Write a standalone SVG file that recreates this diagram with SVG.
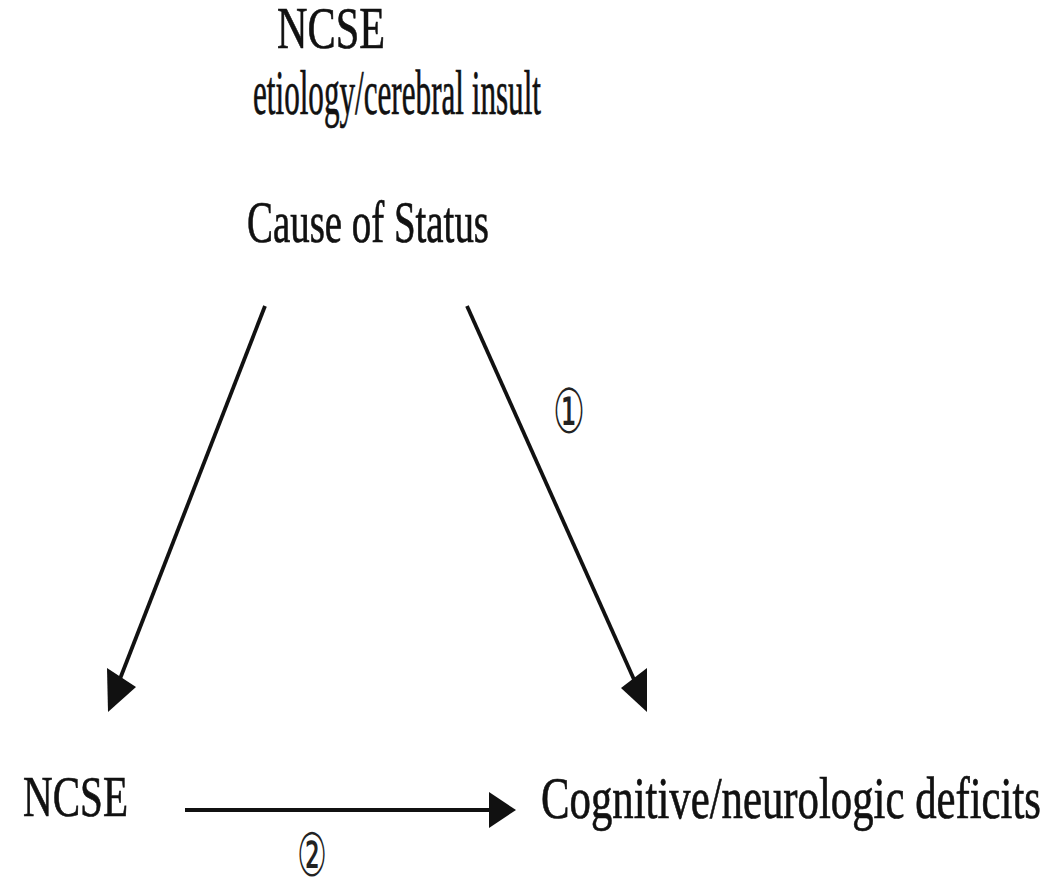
<svg xmlns="http://www.w3.org/2000/svg" width="1052" height="878" viewBox="0 0 1052 878">
<style>
.t{font-family:"Liberation Serif","Times New Roman",serif;fill:#111;stroke:#111;stroke-width:0.7;}
.c{font-family:"DejaVu Sans","Noto Sans",sans-serif;fill:#222;}
.l{stroke:#111;stroke-width:3.8;fill:none;}
.h{fill:#111;}
</style>
<rect width="1052" height="878" fill="#fff"/>
<g id="node-cause">
<text class="t" x="277" y="48" font-size="60" textLength="108" lengthAdjust="spacingAndGlyphs">NCSE</text>
<text class="t" x="253" y="114" font-size="63" textLength="288" lengthAdjust="spacingAndGlyphs">etiology/cerebral insult</text>
<text class="t" x="247" y="242" font-size="60" textLength="242" lengthAdjust="spacingAndGlyphs">Cause of Status</text>
</g>
<g id="node-ncse">
<text class="t" x="23" y="816" font-size="58" textLength="105" lengthAdjust="spacingAndGlyphs">NCSE</text>
</g>
<g id="node-deficits">
<text class="t" x="541" y="818" font-size="60" textLength="500" lengthAdjust="spacingAndGlyphs">Cognitive/neurologic  deficits</text>
</g>
<g id="connectors">
<line class="l" x1="265" y1="306" x2="118" y2="684"/>
<path class="h" d="M108,712 L107,668 L136,687 z"/>
<line class="l" x1="467" y1="306" x2="636" y2="684"/>
<path class="h" d="M647,712 L647,668 L621,688 z"/>
<line class="l" x1="185" y1="810" x2="492" y2="810"/>
<path class="h" d="M516,810 L489,792 L489,828 z"/>
<text class="c" x="553" y="433" font-size="62" textLength="32" lengthAdjust="spacingAndGlyphs">①</text>
<text class="c" x="297" y="876" font-size="60" textLength="30" lengthAdjust="spacingAndGlyphs">②</text>
</g>
</svg>
